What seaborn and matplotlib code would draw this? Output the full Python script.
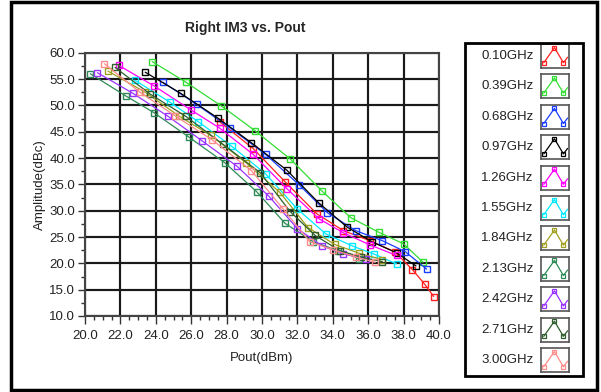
import numpy as np
import pandas as pd
import seaborn as sns
import matplotlib.pyplot as plt
from matplotlib.patches import Rectangle
from matplotlib.ticker import MultipleLocator

# frequencies shown in the legend
freqs = ['0.10GHz', '0.39GHz', '0.68GHz', '0.97GHz', '1.26GHz', '1.55GHz',
         '1.84GHz', '2.13GHz', '2.42GHz', '2.71GHz', '3.00GHz']
colors = ['#ff2020', '#33dd33', '#1a3cff', '#000000', '#ff00ff', '#00e8ff',
          '#a0a020', '#2e8b57', '#9933ff', '#2f5f2f', '#ff8c8c']

# Pout (dBm) / right IM3 (dBc)
pout_010 = [27.6, 29.5, 31.3, 33.1, 34.6, 36.1, 37.5, 38.5, 39.2, 39.7]
im3_010 = [46.9, 41.8, 35.5, 29.4, 26.2, 24.3, 22.2, 18.8, 16.0, 13.7]
pout_039 = [23.8, 25.7, 27.7, 29.6, 31.6, 33.4, 35.0, 36.6, 38.0, 39.1]
im3_039 = [58.3, 54.4, 49.9, 45.2, 39.8, 33.7, 28.7, 25.9, 23.7, 20.2]
pout_068 = [24.4, 26.3, 28.2, 30.2, 32.1, 33.7, 35.3, 36.8, 38.1, 39.3]
im3_068 = [54.4, 50.2, 45.7, 40.7, 34.9, 29.6, 26.2, 24.3, 22.2, 18.9]
pout_097 = [23.4, 25.4, 27.5, 29.4, 31.4, 33.2, 34.8, 36.2, 37.6, 38.7]
im3_097 = [56.3, 52.3, 47.6, 42.9, 37.7, 31.5, 26.9, 24.1, 22.0, 19.5]
pout_126 = [21.9, 23.9, 26.0, 27.6, 29.5, 31.4, 33.2, 34.6, 36.1, 37.6]
im3_126 = [57.6, 53.7, 49.1, 45.7, 40.7, 34.2, 28.5, 25.8, 23.5, 21.5]
pout_155 = [22.8, 24.8, 26.4, 28.3, 30.2, 32.0, 33.6, 35.1, 36.3, 37.6]
im3_155 = [54.8, 50.6, 46.9, 42.2, 37.0, 30.3, 25.6, 23.3, 21.8, 19.9]
pout_184 = [21.3, 23.4, 25.3, 27.1, 29.1, 31.0, 32.6, 34.1, 35.5, 36.8]
im3_184 = [56.5, 52.5, 48.0, 44.3, 39.1, 33.5, 26.8, 23.6, 21.9, 20.7]
pout_213 = [20.3, 22.3, 23.9, 25.9, 27.9, 29.7, 31.3, 32.9, 34.3, 35.5]
im3_213 = [56.0, 51.8, 48.6, 43.9, 39.1, 33.6, 27.6, 24.1, 22.4, 20.9]
pout_242 = [20.7, 22.7, 24.7, 26.6, 28.6, 30.4, 32.0, 33.4, 34.6, 35.9]
im3_242 = [56.2, 52.3, 47.9, 43.3, 38.4, 32.7, 26.6, 23.3, 21.8, 20.8]
pout_271 = [21.7, 23.7, 25.7, 27.8, 29.9, 31.6, 33.0, 34.4, 35.6, 36.8]
im3_271 = [57.2, 52.1, 47.9, 42.6, 37.2, 29.8, 25.3, 22.4, 21.2, 20.3]
pout_300 = [21.1, 23.1, 25.1, 27.2, 29.4, 31.2, 32.7, 34.0, 35.3, 36.4]
im3_300 = [57.9, 52.5, 48.0, 43.4, 37.6, 30.3, 24.1, 22.6, 21.2, 20.2]

pouts = [pout_010, pout_039, pout_068, pout_097, pout_126, pout_155,
         pout_184, pout_213, pout_242, pout_271, pout_300]
im3s = [im3_010, im3_039, im3_068, im3_097, im3_126, im3_155,
        im3_184, im3_213, im3_242, im3_271, im3_300]

rows = []
for f, xs, ys in zip(freqs, pouts, im3s):
    for x, y in zip(xs, ys):
        rows.append({'freq': f, 'Pout': x, 'IM3': y})
df = pd.DataFrame(rows)

sns.set_style('white')
plt.rcParams['font.family'] = ['Liberation Sans', 'DejaVu Sans']

fig = plt.figure(figsize=(6.01, 3.92), dpi=100)
ax = fig.add_axes([85 / 601, 1 - 316 / 392, 354 / 601, 263.3 / 392])
ax.set_zorder(4)

ax.set_xlim(20, 40)
ax.set_ylim(10, 60)
ax.xaxis.set_major_locator(MultipleLocator(2))
ax.xaxis.set_minor_locator(MultipleLocator(0.5))
ax.yaxis.set_major_locator(MultipleLocator(5))
ax.yaxis.set_minor_locator(MultipleLocator(2.5))

# grid lines at the major tick positions, under the curves
ax.vlines(ax.get_xticks(), 10, 60, colors='#1a1a1a', linewidth=1.5, zorder=1.5)
ax.hlines(ax.get_yticks(), 20, 40, colors='#1a1a1a', linewidth=1.5, zorder=1.5)

sns.lineplot(data=df, x='Pout', y='IM3', hue='freq', hue_order=freqs,
             palette=colors, estimator=None, sort=False, marker='s',
             markersize=5, markerfacecolor='none', markeredgewidth=1.0,
             linewidth=0.9, legend=False, ax=ax)
# hollow markers need the edge colour of their own line
for line in ax.get_lines():
    line.set_markeredgecolor(line.get_color())

ax.set_xlim(20, 40)
ax.set_ylim(10, 60)
ax.xaxis.set_major_formatter('{x:.1f}')
ax.yaxis.set_major_formatter('{x:.1f}')
ax.grid(True, which='major', color='#1a1a1a', linewidth=1.5)
for s in ax.spines.values():
    s.set_visible(True)
    s.set_color('#444444')
    s.set_linewidth(1.5)
ax.tick_params(axis='both', which='both', direction='out', colors='#333333',
               labelcolor='#222222', labelsize=9.5)
ax.tick_params(axis='x', which='major', length=6, width=1, pad=4, bottom=True)
ax.tick_params(axis='x', which='minor', length=3, width=1, bottom=True)
ax.tick_params(axis='y', which='major', length=5, width=1, pad=2, left=True)
ax.tick_params(axis='y', which='minor', length=3, width=1, left=True)

ax.set_xlabel('Pout(dBm)', fontsize=9.5, color='#222222')
ax.set_ylabel('Amplitude(dBc)', fontsize=9.5, color='#222222')
ax.xaxis.set_label_coords(0.5, -0.135)
ax.yaxis.set_label_coords(-0.11, 0.5)

fig.text(245 / 601, 1 - 28 / 392, 'Right IM3 vs. Pout', ha='center',
         va='center', fontsize=10, fontweight='bold')

# outer frame and legend box
fig.add_artist(Rectangle((11 / 601, 1 - 390 / 392), 586 / 601, 388 / 392,
                         transform=fig.transFigure, facecolor='none',
                         edgecolor='black', linewidth=2.5))
fig.add_artist(Rectangle((465 / 601, 1 - 376 / 392), 118 / 601, 333 / 392,
                         transform=fig.transFigure, facecolor='none',
                         edgecolor='black', linewidth=2))

# legend entries: label + small plot icon
for i, (f, c) in enumerate(zip(freqs, colors)):
    yc = 56 + i * 30.4
    fig.text(481 / 601, 1 - yc / 392, f, ha='left', va='center',
             fontsize=9.5, color='#222222')
    iax = fig.add_axes([541 / 601, 1 - (yc + 12) / 392, 28 / 601, 24 / 392])
    iax.plot([0.1, 0.48, 0.8, 0.95], [0.22, 0.85, 0.22, 0.45], color=c,
             linewidth=0.9)
    iax.plot([0.1, 0.48, 0.8], [0.22, 0.85, 0.22], linestyle='none',
             marker='s', markersize=3.5, markerfacecolor='none',
             markeredgecolor=c, markeredgewidth=0.9)
    iax.set_xlim(0, 1)
    iax.set_ylim(0, 1)
    iax.set_xticks([])
    iax.set_yticks([])
    for s in iax.spines.values():
        s.set_color('#555555')
        s.set_linewidth(1.2)

fig.savefig('out.png', dpi=100)
